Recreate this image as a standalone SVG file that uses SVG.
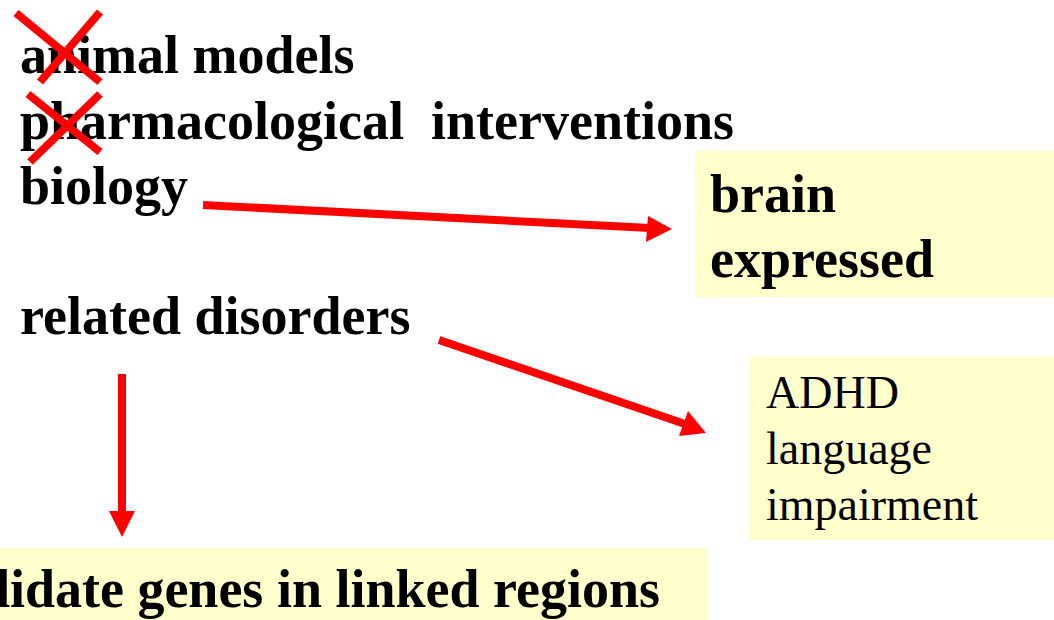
<svg xmlns="http://www.w3.org/2000/svg" width="1054" height="620" viewBox="0 0 1054 620">
<style>
.b{font-family:"Liberation Serif","Times New Roman",serif;font-weight:bold;font-size:54px;fill:#000}
.r{font-family:"Liberation Serif","Times New Roman",serif;font-size:46px;fill:#000}
.box{fill:#FFFFCC}
.ln{stroke:#FF0000;stroke-width:8;fill:none}
.x{stroke:#FF0000;stroke-width:8}
.hd{fill:#FF0000}
</style>
<rect width="1054" height="620" fill="#fff"/>
<g id="animal-models"><text class="b" x="20" y="73">animal models</text></g>
<g id="pharmacological"><text class="b" x="20" y="139" xml:space="preserve">pharmacological  interventions</text></g>
<g id="biology"><text class="b" x="20" y="204">biology</text></g>
<g id="related-disorders"><text class="b" x="20" y="334">related disorders</text></g>
<g id="cross-1"><line class="x" x1="16" y1="13" x2="100" y2="82"/><line class="x" x1="100" y1="12" x2="40" y2="82"/></g>
<g id="cross-2"><line class="x" x1="28" y1="94" x2="100" y2="152"/><line class="x" x1="100" y1="94" x2="30" y2="162"/></g>
<g id="brain-expressed"><rect class="box" x="695" y="151" width="359" height="146"/><text class="b" x="710" y="212">brain</text><text class="b" x="710" y="277">expressed</text></g>
<g id="adhd-box"><rect class="box" x="750" y="357" width="304" height="183"/><text class="r" x="766" y="408">ADHD</text><text class="r" x="766" y="464">language</text><text class="r" x="766" y="520">impairment</text></g>
<g id="candidate-genes"><rect class="box" x="0" y="548" width="707" height="72"/><text class="b" x="660" y="607" text-anchor="end">candidate genes in linked regions</text></g>
<g id="connectors">
<line class="ln" x1="203" y1="205" x2="650" y2="228"/>
<polygon class="hd" points="672,229 648,216 646,242"/>
<line class="ln" x1="439" y1="340" x2="685" y2="424"/>
<polygon class="hd" points="706,433 688,411 679,436"/>
<line class="ln" x1="122" y1="374" x2="122" y2="514"/>
<polygon class="hd" points="122,537 109,511 135,511"/>
</g>
</svg>
